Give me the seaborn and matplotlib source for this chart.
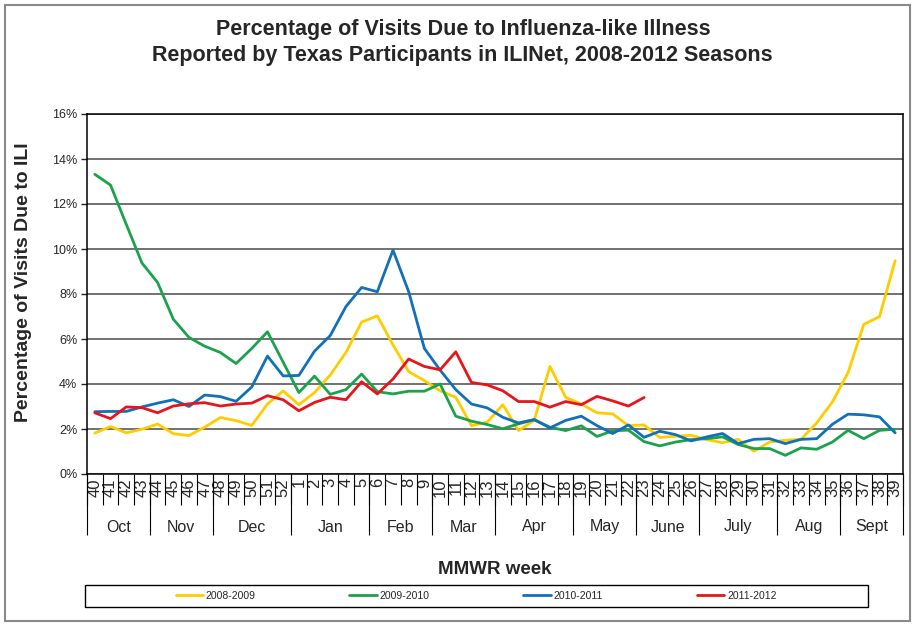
import numpy as np
import pandas as pd
import matplotlib
matplotlib.use("Agg")
import matplotlib.pyplot as plt
from matplotlib.patches import Rectangle
from matplotlib.ticker import FuncFormatter
import seaborn as sns

# ── data ─────────────────────────────────────────────────────────────────────
weeks = [40, 41, 42, 43, 44, 45, 46, 47, 48, 49, 50, 51, 52] + list(range(1, 40))
months = ["Oct", "Nov", "Dec", "Jan", "Feb", "Mar", "Apr", "May", "June",
          "July", "Aug", "Sept"]
month_weeks = [4, 4, 5, 5, 4, 4, 5, 4, 4, 5, 4, 4]

seasons = ["2008-2009", "2009-2010", "2010-2011", "2011-2012"]

ili_0809 = [1.82, 2.11, 1.83, 1.99, 2.22, 1.79, 1.71, 2.08, 2.51, 2.37, 2.16, 3.11, 3.69,
            3.08, 3.62, 4.40, 5.40, 6.75, 7.03, 5.74, 4.55, 4.15, 3.70, 3.41, 2.15, 2.30,
            3.08, 1.93, 2.38, 4.78, 3.41, 3.11, 2.72, 2.67, 2.15, 2.18, 1.62, 1.68, 1.72,
            1.53, 1.39, 1.54, 1.01, 1.42, 1.50, 1.54, 2.27, 3.20, 4.51, 6.65, 6.99, 9.48]
ili_0910 = [13.32, 12.84, 11.10, 9.38, 8.51, 6.88, 6.07, 5.68, 5.40, 4.91, 5.58, 6.32, 4.97,
            3.62, 4.35, 3.54, 3.75, 4.44, 3.66, 3.56, 3.68, 3.68, 4.00, 2.57, 2.35, 2.20,
            2.01, 2.23, 2.41, 2.08, 1.93, 2.14, 1.67, 1.92, 1.95, 1.44, 1.25, 1.42, 1.53,
            1.57, 1.65, 1.31, 1.13, 1.13, 0.83, 1.16, 1.10, 1.42, 1.94, 1.57, 1.94, 1.99]
ili_1011 = [2.77, 2.78, 2.78, 2.98, 3.15, 3.30, 3.00, 3.51, 3.44, 3.23, 3.87, 5.24, 4.36,
            4.38, 5.46, 6.15, 7.44, 8.29, 8.10, 9.95, 8.10, 5.58, 4.62, 3.75, 3.11, 2.94,
            2.52, 2.27, 2.42, 2.05, 2.38, 2.57, 2.15, 1.80, 2.18, 1.63, 1.90, 1.75, 1.47,
            1.65, 1.80, 1.35, 1.54, 1.57, 1.35, 1.54, 1.57, 2.21, 2.66, 2.63, 2.54, 1.83]
ili_1112 = [2.72, 2.46, 2.98, 2.95, 2.72, 3.02, 3.12, 3.17, 3.02, 3.11, 3.15, 3.48, 3.30,
            2.81, 3.18, 3.41, 3.30, 4.10, 3.56, 4.22, 5.11, 4.78, 4.63, 5.43, 4.07, 3.96,
            3.70, 3.22, 3.22, 2.97, 3.22, 3.08, 3.45, 3.25, 3.02, 3.40] + [np.nan] * 16

COLORS = {"2008-2009": "#FFCC00", "2009-2010": "#1BA24C",
          "2010-2011": "#1170B9", "2011-2012": "#E8141B"}

# ── long table ───────────────────────────────────────────────────────────────
frames = []
for season, vals in zip(seasons, [ili_0809, ili_0910, ili_1011, ili_1112]):
    frames.append(pd.DataFrame({"pos": np.arange(len(weeks)), "week": weeks,
                                "ili": vals, "season": season}))
df = pd.concat(frames, ignore_index=True).dropna()

sns.set_style("white")
plt.rcParams["font.family"] = ["Liberation Sans", "DejaVu Sans"]

fig = plt.figure(figsize=(9.16, 6.25), dpi=100)
ax = fig.add_axes([87 / 916, 1 - 474 / 625, 816 / 916, 360 / 625])

sns.lineplot(data=df, x="pos", y="ili", hue="season", palette=COLORS,
             hue_order=seasons, linewidth=2.0, ax=ax, legend=False)

ax.set_xlim(-0.5, len(weeks) - 0.5)
ax.set_ylim(0, 16)
ax.set_yticks(np.arange(0, 17, 2))
ax.yaxis.set_major_formatter(FuncFormatter(lambda v, _: f"{v:.0f}%"))
ax.tick_params(axis="y", labelsize=9, length=4, width=1, direction="out",
               left=True, pad=3)
ax.grid(axis="y", color="#4a4a4a", linewidth=1.1)
ax.set_axisbelow(True)
for s in ax.spines.values():
    s.set_color("black")
    s.set_linewidth(1.1)

# week tick labels
ax.set_xticks(np.arange(len(weeks)))
ax.set_xticklabels([str(w) for w in weeks], rotation=90, fontsize=12)
ax.tick_params(axis="x", length=0, pad=3)
ax.set_xlabel("")
ax.set_ylabel("Percentage of Visits Due to ILI", fontsize=14, fontweight="bold")
ax.yaxis.set_label_coords(-0.068, 0.533)

# category dividers (week level, month level)
xt = ax.get_xaxis_transform()
bounds = np.cumsum([0] + month_weeks) - 0.5
ax.vlines(np.arange(len(weeks) + 1) - 0.5, 0, -31 / 360, transform=xt,
          colors="black", linewidth=0.8, clip_on=False)
ax.vlines(bounds, 0, -61 / 360, transform=xt, colors="black",
          linewidth=0.8, clip_on=False)
for m, lo, hi in zip(months, bounds[:-1], bounds[1:]):
    ax.text((lo + hi) / 2, -53 / 360, m, transform=xt, ha="center",
            va="center", fontsize=11.5)

# titles
fig.text(463 / 916, 1 - 30 / 625, "Percentage of Visits Due to Influenza-like Illness",
         ha="center", va="center", fontsize=15.5, fontweight="bold")
fig.text(462 / 916, 1 - 55 / 625, "Reported by Texas Participants in ILINet, 2008-2012 Seasons",
         ha="center", va="center", fontsize=15.5, fontweight="bold")
fig.text(495 / 916, 1 - 570 / 625, "MMWR week", ha="center", va="center",
         fontsize=13.5, fontweight="bold")

# legend in its own box
handles = [plt.Line2D([], [], color=COLORS[s], linewidth=2) for s in seasons]
fig.legend(handles, seasons, loc="center", ncol=4, frameon=False,
           bbox_to_anchor=(476 / 916, 1 - 596 / 625), fontsize=7.5,
           handlelength=2.6, handletextpad=0.3, columnspacing=9.0)
fig.patches.append(Rectangle((85 / 916, 1 - 607 / 625), 783 / 916, 22 / 625,
                             transform=fig.transFigure, fill=False,
                             edgecolor="black", linewidth=1))
fig.patches.append(Rectangle((5 / 916, 4 / 625), 905 / 916, 616 / 625,
                             transform=fig.transFigure, fill=False,
                             edgecolor="#8a8a8a", linewidth=1.5))

fig.savefig("out.png", dpi=100)
plt.close(fig)
